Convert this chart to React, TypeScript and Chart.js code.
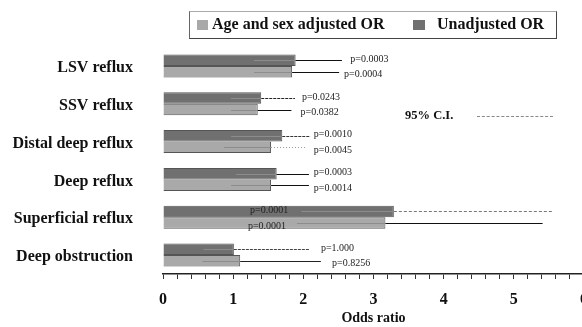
import React, { useEffect, useRef } from "react";
import { Chart, registerables } from "chart.js";

Chart.register(...registerables);

const categories = [
  "LSV reflux",
  "SSV reflux",
  "Distal deep reflux",
  "Deep reflux",
  "Superficial reflux",
  "Deep obstruction",
];

const unadjustedOR = [1.89, 1.4, 1.7, 1.62, 3.29, 1.01];
const unadjustedLow = [1.3, 0.97, 0.97, 1.04, 1.97, 0.58];
const unadjustedHigh = [2.55, 1.88, 2.1, 2.08, 5.57, 2.09];
const unadjustedP = ["p=0.0003", "p=0.0243", "p=0.0010", "p=0.0003", "p=0.0001", "p=1.000"];

const adjustedOR = [1.84, 1.35, 1.54, 1.54, 3.17, 1.1];
const adjustedLow = [1.3, 0.97, 0.87, 0.97, 1.91, 0.56];
const adjustedHigh = [2.51, 1.83, 2.05, 2.08, 5.41, 2.25];
const adjustedP = ["p=0.0004", "p=0.0382", "p=0.0045", "p=0.0014", "p=0.0001", "p=0.8256"];

// where each p-value annotation starts (odds-ratio units)
const unadjustedPAt = [2.67, 1.98, 2.15, 2.15, 1.24, 2.25];
const adjustedPAt = [2.58, 1.96, 2.15, 2.15, 1.21, 2.41];

const xTickMin = 0;
const xTickMax = 6;

const DARK = "#707070";
const LIGHT = "#a9a9a9";
const FONT = "'Liberation Serif', 'Times New Roman', serif";

const lows = [unadjustedLow, adjustedLow];
const highs = [unadjustedHigh, adjustedHigh];
const pTexts = [unadjustedP, adjustedP];
const pAts = [unadjustedPAt, adjustedPAt];
// dash style of the part of each CI line outside the bar
const dashes: number[][][] = [
  [[], [3, 1], [3, 1], [], [3, 2], [3, 1]],
  [[], [], [1, 2], [], [], []],
];
const lineColors = [
  ["#111", "#222", "#333", "#111", "#777", "#444"],
  ["#111", "#111", "#999", "#111", "#111", "#222"],
];
const pDy = [-1, 3];

const ciPlugin = {
  id: "ciLines",
  afterDatasetsDraw(chart: any) {
    const ctx = chart.ctx;
    const xs = chart.scales.x;
    for (let d = 0; d < 2; d++) {
      const meta = chart.getDatasetMeta(d);
      meta.data.forEach((el: any, j: number) => {
        const y = Math.round(el.y) + 0.5;
        const xl = xs.getPixelForValue(lows[d][j]);
        const xh = xs.getPixelForValue(highs[d][j]);
        const xe = el.x;
        ctx.save();
        ctx.lineWidth = 1;
        ctx.strokeStyle = "#8c8c8c";
        ctx.beginPath();
        ctx.moveTo(xl, y);
        ctx.lineTo(xe, y);
        ctx.stroke();
        ctx.strokeStyle = lineColors[d][j];
        ctx.lineWidth = 1.2;
        ctx.setLineDash(dashes[d][j]);
        ctx.beginPath();
        ctx.moveTo(xe, y);
        ctx.lineTo(xh, y);
        ctx.stroke();
        ctx.setLineDash([]);
        ctx.fillStyle = "#222";
        ctx.font = `10px ${FONT}`;
        ctx.textBaseline = "middle";
        ctx.textAlign = "left";
        ctx.fillText(pTexts[d][j], xs.getPixelForValue(pAts[d][j]), el.y + pDy[d]);
        ctx.restore();
      });
    }
  },
};

export default function App() {
  const ref = useRef<HTMLCanvasElement | null>(null);

  useEffect(() => {
    document.body.style.margin = "0";
    const canvas = ref.current;
    if (!canvas) return;
    const chart = new Chart(canvas, {
      type: "bar",
      data: {
        labels: categories,
        datasets: [
          {
            label: "Unadjusted OR",
            data: unadjustedOR,
            backgroundColor: DARK,
            borderColor: "#555",
            borderWidth: 1,
          },
          {
            label: "Age and sex adjusted OR",
            data: adjustedOR,
            backgroundColor: LIGHT,
            borderColor: "#555",
            borderWidth: 1,
          },
        ],
      },
      options: {
        indexAxis: "y",
        animation: false,
        responsive: false,
        devicePixelRatio: 1,
        datasets: {
          bar: { categoryPercentage: 0.61, barPercentage: 1 },
        },
        layout: { padding: { left: 0, right: 16, top: 47, bottom: 0 } },
        plugins: {
          legend: { display: false },
          tooltip: { enabled: false },
        },
        scales: {
          x: {
            type: "linear",
            min: xTickMin,
            max: xTickMax,
            afterFit: (s: any) => {
              s.height = 53;
            },
            ticks: {
              stepSize: 0.2,
              autoSkip: false,
              maxRotation: 0,
              padding: 11,
              color: "#111",
              font: { family: FONT, size: 16, weight: "bold" },
              callback: (v: any) => {
                const n = Number(v);
                return Math.abs(n - Math.round(n)) < 1e-6 ? String(Math.round(n)) : "";
              },
            },
            grid: {
              drawOnChartArea: false,
              drawTicks: true,
              tickLength: 5,
              color: "#333",
            },
            border: { display: true, color: "#222", width: 1.5 },
            title: {
              display: true,
              text: "Odds ratio",
              color: "#111",
              font: { family: FONT, size: 14, weight: "bold" },
              padding: { top: 0, bottom: 0 },
            },
          },
          y: {
            type: "category",
            afterFit: (s: any) => {
              s.width = 163;
            },
            grid: { display: false, drawTicks: false },
            border: { display: false },
            ticks: {
              padding: 30,
              labelOffset: 2,
              color: "#111",
              font: { family: FONT, size: 16, weight: "bold" },
            },
          },
        },
      },
      plugins: [ciPlugin],
    } as any);
    return () => chart.destroy();
  }, []);

  const legendText: React.CSSProperties = {
    position: "absolute",
    top: 3,
    font: `bold 16px ${FONT}`,
    color: "#111",
    whiteSpace: "nowrap",
  };

  return (
    <div
      style={{
        position: "fixed",
        left: 0,
        top: 0,
        width: 582,
        height: 327,
        overflow: "hidden",
        background: "#fff",
      }}
    >
      <canvas ref={ref} width={600} height={327} style={{ width: 600, height: 327, display: "block" }} />
      <div
        style={{
          position: "absolute",
          left: 189,
          top: 11,
          width: 366,
          height: 26,
          border: "1px solid #444",
          borderTopColor: "#aaa",
          borderLeftColor: "#666",
        }}
      >
        <div style={{ position: "absolute", left: 7, top: 8, width: 11, height: 10, background: LIGHT }} />
        <span style={{ ...legendText, left: 22 }}>Age and sex adjusted OR</span>
        <div style={{ position: "absolute", left: 223, top: 8, width: 12, height: 10, background: DARK }} />
        <span style={{ ...legendText, left: 247 }}>Unadjusted OR</span>
      </div>
      <span
        style={{
          position: "absolute",
          left: 405,
          top: 108,
          font: `bold 12.5px ${FONT}`,
          color: "#111",
          whiteSpace: "nowrap",
        }}
      >
        95% C.I.
      </span>
      <div
        style={{
          position: "absolute",
          left: 477,
          top: 116,
          width: 76,
          height: 0,
          borderTop: "1px dashed #888",
        }}
      />
    </div>
  );
}
